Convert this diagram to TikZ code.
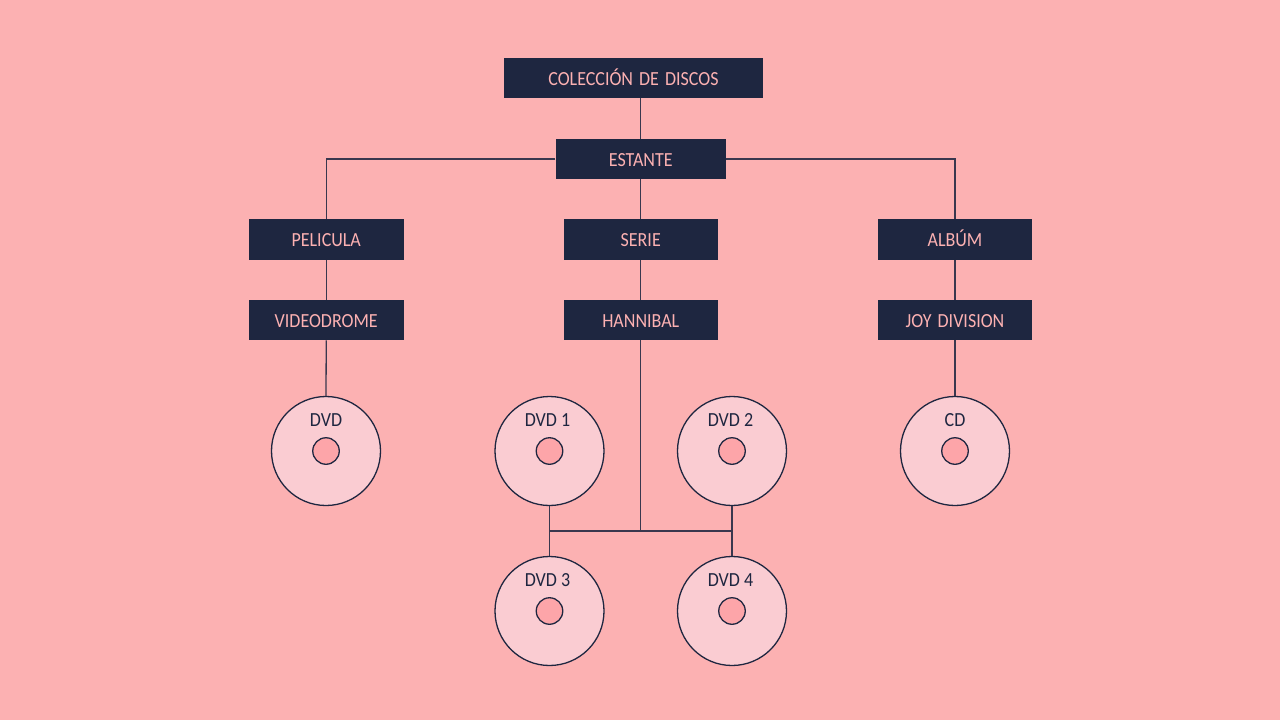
\documentclass[tikz,border=0pt]{standalone}
\usepackage{fontspec}
\setmainfont[FakeStretch=0.9]{Carlito}
\definecolor{bgp}{HTML}{FCB1B2}
\definecolor{navy}{HTML}{1E2640}
\definecolor{txtp}{HTML}{FCB1B2}
\definecolor{discp}{HTML}{FACCD2}
\definecolor{holep}{HTML}{FDA5A9}
\tikzset{
  x=1pt,y=-1pt,
  box/.style={fill=navy,text=txtp,inner sep=0pt,font=\fontsize{20}{22}\selectfont,anchor=center,text height=14pt,text depth=0pt},
  disc/.style={circle,draw=navy,line width=1.3pt,fill=discp,minimum size=109pt,inner sep=0pt},
  hole/.style={circle,draw=navy,line width=1.3pt,fill=holep,minimum size=26.5pt,inner sep=0pt},
  disclabel/.style={text=navy,inner sep=0pt,font=\fontsize{20}{22}\selectfont,text height=14pt,text depth=0pt},
  conn/.style={draw=navy!88!bgp,line width=1.3pt}
}
\begin{document}
\begin{tikzpicture}
\useasboundingbox[fill=bgp] (0,0) rectangle (1280,720);
\node[box,minimum width=259pt,minimum height=40pt] (title) at (633.5,78) {COLECCIÓN\hspace{2pt} DE\hspace{2pt} DISCOS};
\node[box,minimum width=170.5pt,minimum height=40pt] (estante) at (640.75,159) {ESTANTE};
\node[box,minimum width=154.5pt,minimum height=40.5pt] (pelicula) at (326.25,239.5) {PELICULA};
\node[box,minimum width=154.5pt,minimum height=40.5pt] (serie) at (640.75,239.5) {SERIE};
\node[box,minimum width=154.5pt,minimum height=40.5pt] (album) at (955,239.5) {ALBÚM};
\node[box,minimum width=154.5pt,minimum height=40.5pt] (video) at (326.25,320) {VIDEODROME};
\node[box,minimum width=154.5pt,minimum height=40.5pt] (hannibal) at (640.75,320) {HANNIBAL};
\node[box,minimum width=154.5pt,minimum height=40.5pt] (joy) at (955,320) {JOY\hspace{2pt} DIVISION};
\node[disc] (dvd) at (326,451) {};
\node[disc] (d1) at (549.5,451) {};
\node[disc] (d2) at (732,451) {};
\node[disc] (cd) at (955,451) {};
\node[disc] (d3) at (549.5,611) {};
\node[disc] (d4) at (732,611) {};
\node[hole] (h0) at (326,451) {};
\node[hole] (h1) at (549.5,451) {};
\node[hole] (h2) at (732,451) {};
\node[hole] (h5) at (955,451) {};
\node[hole] (h3) at (549.5,611) {};
\node[hole] (h4) at (732,611) {};
\node[disclabel] (l0) at (326,419) {DVD};
\node[disclabel] (l1) at (547.5,419) {DVD 1};
\node[disclabel] (l2) at (730.5,419) {DVD 2};
\node[disclabel] (l5) at (955,419) {CD};
\node[disclabel] (l3) at (547.5,579) {DVD 3};
\node[disclabel] (l4) at (730.5,579) {DVD 4};
\coordinate (j) at (640.75,531);
\draw[conn] (estante.north) -- (estante.north |- title.south);
\draw[conn] (estante.west) -| (pelicula.north);
\draw[conn] (estante.east) -| (album.north);
\draw[conn] (estante.south) -- (serie.north);
\draw[conn] (pelicula.south) -- (video.north);
\draw[conn] (serie.south) -- (hannibal.north);
\draw[conn] (album.south) -- (joy.north);
\draw[conn] (video.south) -- (dvd.north);
\draw[conn] (joy.south) -- (cd.north);
\draw[conn] (hannibal.south) -- (j);
\draw[conn] (d1.south) -- (d3.north);
\draw[conn] (d2.south) -- (d4.north);
\draw[conn] (d1.south |- j) -- (d2.south |- j);
\end{tikzpicture}
\end{document}
